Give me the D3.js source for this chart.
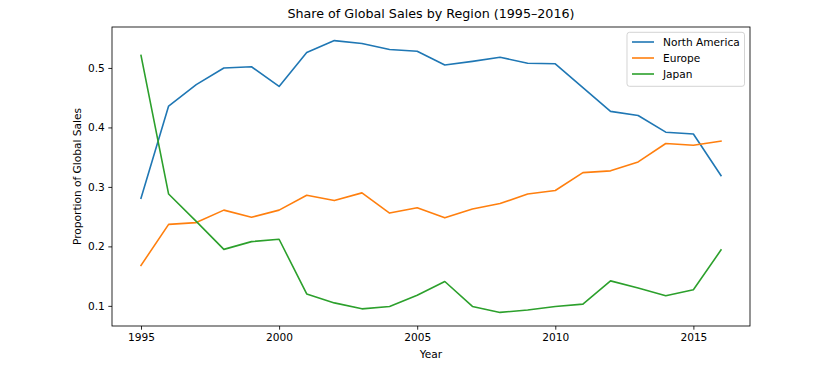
<!DOCTYPE html>
<html>
<head>
<meta charset="utf-8">
<script src="https://cdn.jsdelivr.net/npm/d3@7"></script>
<style>
    body { margin: 0; background: #fff; }
    text { font-family: "DejaVu Sans", sans-serif; fill: #000; }
</style>
</head>
<body>
<script>
//chart data
var years = [1995, 1996, 1997, 1998, 1999, 2000, 2001, 2002, 2003, 2004, 2005,
             2006, 2007, 2008, 2009, 2010, 2011, 2012, 2013, 2014, 2015, 2016];
var northAmerica = [0.281, 0.436, 0.472, 0.500, 0.502, 0.469, 0.526, 0.546, 0.541, 0.531, 0.528,
                    0.505, 0.511, 0.518, 0.508, 0.507, 0.467, 0.427, 0.420, 0.392, 0.389, 0.319];
var europe = [0.168, 0.237, 0.240, 0.261, 0.249, 0.261, 0.286, 0.277, 0.290, 0.256, 0.265,
              0.248, 0.263, 0.272, 0.288, 0.294, 0.324, 0.327, 0.342, 0.373, 0.370, 0.377];
var japan = [0.521, 0.288, 0.242, 0.195, 0.208, 0.212, 0.120, 0.105, 0.095, 0.099, 0.118,
             0.141, 0.099, 0.089, 0.093, 0.099, 0.103, 0.142, 0.130, 0.117, 0.127, 0.194];
var seriesNames = ["North America", "Europe", "Japan"];
var seriesColors = ["#1f77b4", "#ff7f0e", "#2ca02c"];
var xTicks = [1995, 2000, 2005, 2010, 2015];
var yTicks = [0.1, 0.2, 0.3, 0.4, 0.5];

window.onload = drawChart();

function drawChart(){

    var width = 837,
        height = 380;
    var left = 112, right = 750, top = 27, bottom = 326;

    var svg = d3.select("body")
        .append("svg")
        .attr("width", width)
        .attr("height", height);

    svg.append("rect")
        .attr("width", width)
        .attr("height", height)
        .attr("fill", "#fff");

    var allSeries = [northAmerica, europe, japan];

    //matplotlib style 5% margins
    var xMin = d3.min(years), xMax = d3.max(years);
    var xPad = (xMax - xMin) * 0.05;
    var yMin = d3.min(allSeries, function(s){ return d3.min(s); }),
        yMax = d3.max(allSeries, function(s){ return d3.max(s); });
    var yPad = (yMax - yMin) * 0.05;

    var x = d3.scaleLinear()
        .domain([xMin - xPad, xMax + xPad])
        .range([left, right]);
    var y = d3.scaleLinear()
        .domain([yMin - yPad, yMax + yPad])
        .range([bottom, top]);

    //lines
    var line = d3.line()
        .x(function(d, i){ return x(years[i]); })
        .y(function(d){ return y(d); });

    svg.selectAll(".series")
        .data(allSeries)
        .enter()
        .append("path")
        .attr("class", "series")
        .attr("d", line)
        .attr("fill", "none")
        .attr("stroke", function(d, i){ return seriesColors[i]; })
        .attr("stroke-width", 1.6)
        .attr("stroke-linejoin", "round")
        .attr("stroke-linecap", "square");

    //axes
    var xAxis = d3.axisBottom(x)
        .tickValues(xTicks)
        .tickFormat(d3.format("d"))
        .tickSizeInner(3.7)
        .tickSizeOuter(0)
        .tickPadding(3.5);
    var yAxis = d3.axisLeft(y)
        .tickValues(yTicks)
        .tickFormat(d3.format(".1f"))
        .tickSizeInner(3.7)
        .tickSizeOuter(0)
        .tickPadding(3.5);

    var gx = svg.append("g")
        .attr("transform", "translate(0," + bottom + ")")
        .call(xAxis);
    var gy = svg.append("g")
        .attr("transform", "translate(" + left + ",0)")
        .call(yAxis);

    [gx, gy].forEach(function(g){
        g.select(".domain").remove();
        g.selectAll(".tick line").attr("stroke", "#000").attr("stroke-width", 0.84);
        g.selectAll(".tick text")
            .attr("font-family", "DejaVu Sans")
            .attr("font-size", 10.6)
            .attr("fill", "#000");
    });

    //frame
    svg.append("rect")
        .attr("x", left)
        .attr("y", top)
        .attr("width", right - left)
        .attr("height", bottom - top)
        .attr("fill", "none")
        .attr("stroke", "#000")
        .attr("stroke-width", 0.84);

    //title and labels
    svg.append("text")
        .attr("x", (left + right) / 2)
        .attr("y", 18)
        .attr("text-anchor", "middle")
        .attr("font-size", 12.7)
        .text("Share of Global Sales by Region (1995\u20132016)");

    svg.append("text")
        .attr("x", (left + right) / 2)
        .attr("y", 358)
        .attr("text-anchor", "middle")
        .attr("font-size", 10.6)
        .text("Year");

    svg.append("text")
        .attr("transform", "translate(81," + ((top + bottom) / 2) + ") rotate(-90)")
        .attr("text-anchor", "middle")
        .attr("font-size", 10.6)
        .text("Proportion of Global Sales");

    //legend
    var legend = svg.append("g");
    legend.append("rect")
        .attr("x", 627)
        .attr("y", 32.3)
        .attr("width", 117.5)
        .attr("height", 54)
        .attr("rx", 2.5)
        .attr("fill", "#fff")
        .attr("fill-opacity", 0.8)
        .attr("stroke", "#ccc")
        .attr("stroke-width", 0.84);

    var items = legend.selectAll(".item")
        .data(seriesNames)
        .enter()
        .append("g")
        .attr("class", "item")
        .attr("transform", function(d, i){ return "translate(632," + (42 + i * 16) + ")"; });

    items.append("line")
        .attr("x1", 0)
        .attr("x2", 22)
        .attr("stroke", function(d, i){ return seriesColors[i]; })
        .attr("stroke-width", 1.6);

    items.append("text")
        .attr("x", 31)
        .attr("y", 3.8)
        .attr("font-size", 10.6)
        .text(function(d){ return d; });
};
</script>
</body>
</html>
